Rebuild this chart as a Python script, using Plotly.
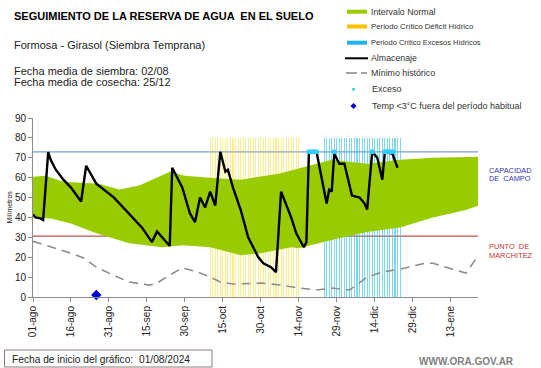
import plotly.graph_objects as go
import pandas as pd

# ---------------- data ----------------
alm_dates = ["2024-08-01", "2024-08-02", "2024-08-04", "2024-08-05", "2024-08-07", "2024-08-08",
             "2024-08-10", "2024-08-13", "2024-08-16", "2024-08-20", "2024-08-22", "2024-08-26",
             "2024-09-02", "2024-09-08", "2024-09-13", "2024-09-17", "2024-09-19", "2024-09-21",
             "2024-09-24", "2024-09-25", "2024-09-29", "2024-10-02", "2024-10-04", "2024-10-06",
             "2024-10-08", "2024-10-10", "2024-10-12", "2024-10-14", "2024-10-16", "2024-10-17",
             "2024-10-19", "2024-10-22", "2024-10-25", "2024-10-29", "2024-10-31", "2024-11-03",
             "2024-11-05", "2024-11-07", "2024-11-11", "2024-11-13", "2024-11-16", "2024-11-17",
             "2024-11-18", "2024-11-21", "2024-11-25", "2024-11-26", "2024-11-27", "2024-11-28",
             "2024-11-30", "2024-12-02", "2024-12-05", "2024-12-08", "2024-12-10", "2024-12-11",
             "2024-12-13", "2024-12-15", "2024-12-17", "2024-12-18", "2024-12-21", "2024-12-23"]
alm_vals = [41.5, 40, 39.5, 38.7, 72.8, 69,
            64, 59, 55, 48, 66, 57,
            50, 42, 35, 27.6, 33, 30,
            25.6, 65, 55, 42, 37.7, 50,
            45, 53, 46, 73, 63, 64,
            55, 44, 30, 20, 17, 15,
            12.5, 53, 40, 32, 25, 27.6,
            73, 73, 47, 54, 53, 72,
            67, 67, 51, 50, 47, 44,
            73, 70, 59, 73, 72, 65]

upper_dates = ["2024-08-01", "2024-08-06", "2024-08-13", "2024-08-27", "2024-09-04", "2024-09-12",
               "2024-09-24", "2024-09-30", "2024-10-10", "2024-10-22", "2024-11-06", "2024-11-18",
               "2024-11-27", "2024-12-11", "2024-12-24", "2025-01-06", "2025-01-24"]
upper_vals = [60.5, 61, 58, 57, 54, 56, 63, 61, 60, 59, 62, 66, 69, 67, 69, 70, 70.5]

lower_dates = ["2024-08-01", "2024-08-08", "2024-08-16", "2024-08-26", "2024-09-08", "2024-09-21",
               "2024-09-29", "2024-10-10", "2024-10-22", "2024-10-30", "2024-11-11", "2024-11-14",
               "2024-11-27", "2024-12-11", "2024-12-24", "2025-01-06", "2025-01-19", "2025-01-24"]
lower_vals = [40, 39.5, 37, 32, 27, 25, 26, 25, 21, 22, 25, 24.5, 28.6, 32.7, 35, 40, 43.7, 46]

min_dates = ["2024-08-01", "2024-08-16", "2024-08-21", "2024-08-26", "2024-08-31", "2024-09-08",
             "2024-09-16", "2024-09-19", "2024-09-24", "2024-09-29", "2024-10-05", "2024-10-10",
             "2024-10-14", "2024-10-19", "2024-10-30", "2024-11-07", "2024-11-14", "2024-11-21",
             "2024-11-27", "2024-12-04", "2024-12-11", "2024-12-17", "2024-12-24", "2025-01-03",
             "2025-01-06", "2025-01-19", "2025-01-24"]
min_vals = [28, 22, 19.6, 15, 12, 7.5,
            6, 7, 11, 14.6, 12.6, 10,
            7.5, 6.5, 7, 6, 4.5, 3.5,
            4.5, 3.5, 10, 12.6, 14, 17,
            17, 12, 21]

exceso_dates = ["2024-11-18", "2024-11-19", "2024-11-20", "2024-11-21", "2024-11-28",
                "2024-12-13", "2024-12-18", "2024-12-19", "2024-12-20", "2024-12-21"]
exceso_vals = [73, 73, 73, 73, 73, 73, 73, 73, 73, 73]

temp_dates = ["2024-08-26"]
temp_vals = [1]

deficit_start, deficit_end = "2024-10-10", "2024-11-14"
excesos_start, excesos_end = "2024-11-24", "2024-12-24"
periodo_altura = 80

capacidad_campo = 73
punto_marchitez = 30.6

tick_dates = ["2024-08-01", "2024-08-16", "2024-08-31", "2024-09-15", "2024-09-30", "2024-10-15",
              "2024-10-30", "2024-11-14", "2024-11-29", "2024-12-14", "2024-12-29", "2025-01-13"]
tick_labels = ["01-ago", "16-ago", "31-ago", "15-sep", "30-sep", "15-oct",
               "30-oct", "14-nov", "29-nov", "14-dic", "29-dic", "13-ene"]

x_range = ["2024-08-01", "2025-01-23 19:00"]

# ---------------- figure ----------------
FONT = "Liberation Sans, Arial, sans-serif"
W, H = 541, 368
L, R, T, B = 33, 478, 118, 297


def pxx(x):
    return (x - L) / (R - L)


def pxy(y):
    return (B - y) / (B - T)


fig = go.Figure()

# green normal interval band
fig.add_trace(go.Scatter(x=lower_dates, y=lower_vals, mode="lines", line=dict(width=0, color="#99cc00"),
                         hoverinfo="skip", showlegend=False))
fig.add_trace(go.Scatter(x=upper_dates, y=upper_vals, mode="lines", line=dict(width=0, color="#99cc00"),
                         fill="tonexty", fillcolor="#99cc00", showlegend=False))

day_ms = 86400000
def_days = pd.date_range(deficit_start, deficit_end, freq="D")
exc_days = pd.date_range(excesos_start, excesos_end, freq="D")
fig.add_trace(go.Bar(x=def_days, y=[periodo_altura] * len(def_days), width=0.42 * day_ms,
                     marker=dict(color="rgba(255,214,10,0.45)", line=dict(width=0)), showlegend=False))
fig.add_trace(go.Bar(x=exc_days, y=[periodo_altura] * len(exc_days), width=0.42 * day_ms,
                     marker=dict(color="rgba(40,190,225,0.6)", line=dict(width=0)), showlegend=False))

# min historic
fig.add_trace(go.Scatter(x=min_dates, y=min_vals, mode="lines",
                         line=dict(color="#8c8c8c", width=1.6, dash="9px,6px"), showlegend=False))
# almacenaje
fig.add_trace(go.Scatter(x=alm_dates, y=alm_vals, mode="lines",
                         line=dict(color="black", width=2.4), showlegend=False))
# exceso
fig.add_trace(go.Scatter(x=exceso_dates, y=exceso_vals, mode="markers",
                         marker=dict(color="#33ccff", size=4.5, symbol="square"), showlegend=False))
# temp
fig.add_trace(go.Scatter(x=temp_dates, y=temp_vals, mode="markers",
                         marker=dict(color="#0000dd", size=8, symbol="diamond"), showlegend=False,
                         cliponaxis=False))

shapes = []
# reference lines
shapes.append(dict(type="line", xref="paper", yref="y", x0=0, x1=1, y0=capacidad_campo, y1=capacidad_campo,
                   line=dict(color="#7f9bd0", width=1.2), layer="below"))
shapes.append(dict(type="line", xref="paper", yref="y", x0=0, x1=1, y0=punto_marchitez, y1=punto_marchitez,
                   line=dict(color="#c0504d", width=1.2), layer="below"))

# legend symbols
leg_rows = [11.7, 26.5, 42.7, 58.3, 73.0, 89.3, 106.0]
shapes.append(dict(type="rect", xref="paper", yref="paper", x0=pxx(347), x1=pxx(367),
                   y0=pxy(leg_rows[0] - 2), y1=pxy(leg_rows[0] + 2), fillcolor="#99cc00", line=dict(width=0)))
shapes.append(dict(type="rect", xref="paper", yref="paper", x0=pxx(347), x1=pxx(367),
                   y0=pxy(leg_rows[1] - 2), y1=pxy(leg_rows[1] + 2), fillcolor="#ffc000", line=dict(width=0)))
shapes.append(dict(type="rect", xref="paper", yref="paper", x0=pxx(347), x1=pxx(367),
                   y0=pxy(leg_rows[2] - 2), y1=pxy(leg_rows[2] + 2), fillcolor="#1fb4ec", line=dict(width=0)))
shapes.append(dict(type="line", xref="paper", yref="paper", x0=pxx(345), x1=pxx(368),
                   y0=pxy(leg_rows[3]), y1=pxy(leg_rows[3]), line=dict(color="black", width=2)))
shapes.append(dict(type="line", xref="paper", yref="paper", x0=pxx(346), x1=pxx(357),
                   y0=pxy(leg_rows[4]), y1=pxy(leg_rows[4]), line=dict(color="#8c8c8c", width=1.6)))
shapes.append(dict(type="line", xref="paper", yref="paper", x0=pxx(361), x1=pxx(367),
                   y0=pxy(leg_rows[4]), y1=pxy(leg_rows[4]), line=dict(color="#8c8c8c", width=1.6)))
shapes.append(dict(type="circle", xref="paper", yref="paper", x0=pxx(352), x1=pxx(355),
                   y0=pxy(leg_rows[5] - 1.5), y1=pxy(leg_rows[5] + 1.5), fillcolor="#33ccff", line=dict(width=0)))
shapes.append(dict(type="path", xref="paper", yref="paper",
                   path="M {} {} L {} {} L {} {} L {} {} Z".format(
                       pxx(353.5), pxy(leg_rows[6] - 3), pxx(356.5), pxy(leg_rows[6]),
                       pxx(353.5), pxy(leg_rows[6] + 3), pxx(350.5), pxy(leg_rows[6])),
                   fillcolor="#0000dd", line=dict(width=0)))

# bottom box
shapes.append(dict(type="rect", xref="paper", yref="paper", x0=pxx(4.5), x1=pxx(212),
                   y0=pxy(350), y1=pxy(367), line=dict(color="#8c7b7b", width=1), fillcolor="white"))

ann = []


def text(x, y, s, size, color="#222222", bold=False, xanchor="left", angle=0):
    ann.append(dict(x=pxx(x), y=pxy(y), xref="paper", yref="paper", text=("<b>%s</b>" % s) if bold else s,
                    showarrow=False, xanchor=xanchor, yanchor="middle", textangle=angle,
                    font=dict(family=FONT, size=size, color=color)))


text(12, 15.5, "SEGUIMIENTO DE LA RESERVA DE AGUA  EN EL SUELO", 11, "black", bold=True)
text(12, 45.5, "Formosa - Girasol (Siembra Temprana)", 11)
text(12, 70.5, "Fecha media de siembra: 02/08", 11)
text(12, 81.5, "Fecha media de cosecha: 25/12", 11)

leg_texts = ["Intervalo Normal", "Periodo Crítico Déficit Hídrico", "Periodo Crítico Excesos Hídricos",
             "Almacenaje", "Mínimo histórico", "Exceso", "Temp <3°C fuera del período habitual"]
leg_sizes = [8.8, 7.8, 7.5, 8.8, 8.8, 9, 9]
for i, (t, s) in enumerate(zip(leg_texts, leg_sizes)):
    text(369 if i < 5 else 370, leg_rows[i], t, s, "#333333")

text(487, 170, "CAPACIDAD", 7.4, "#3535b5")
text(487, 178, "DE  CAMPO", 7.4, "#3535b5")
text(487, 246.5, "PUNTO  DE", 7.4, "#c83232")
text(487, 255, "MARCHITEZ", 7.4, "#c83232")

text(9, 207.5, "Milímetros", 7, "#222222", xanchor="center", angle=-90)

text(10, 359, "Fecha de inicio del gráfico:", 10.2, "#222222")
text(137, 359, "01/08/2024", 10.2, "#222222")
text(516, 361, "WWW.ORA.GOV.AR", 10, "#7f7f7f", bold=True, xanchor="right")

fig.update_layout(
    width=W, height=H,
    margin=dict(l=L, r=W - R, t=T, b=H - B, pad=0),
    paper_bgcolor="white", plot_bgcolor="white",
    barmode="overlay", bargap=0,
    showlegend=False,
    shapes=shapes, annotations=ann,
    font=dict(family=FONT, color="#222222"),
    xaxis=dict(type="date", range=x_range, tickvals=tick_dates, ticktext=tick_labels, tickangle=-90,
               showgrid=False, zeroline=False, showline=True, linecolor="#8c8c8c", linewidth=1,
               ticks="outside", ticklen=4, tickcolor="#8c8c8c", tickfont=dict(size=10, family=FONT, color="#222222")),
    yaxis=dict(range=[0, 90], dtick=10, showgrid=False, zeroline=False, showline=True,
               linecolor="#8c8c8c", linewidth=1, ticks="outside", ticklen=4, tickcolor="#8c8c8c",
               tickfont=dict(size=10, family=FONT, color="#222222")),
)

fig.write_html("out.html", config={"displayModeBar": False},
               post_script="document.body.style.margin='0px';document.body.style.overflow='hidden';")
